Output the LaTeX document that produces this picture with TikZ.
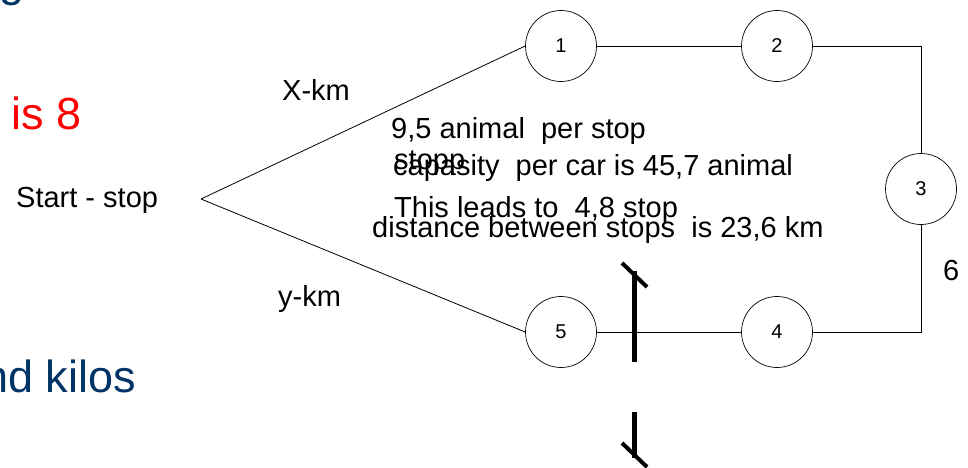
\documentclass[tikz,border=0pt]{standalone}
\usepackage{fontspec}
\setmainfont{Liberation Sans}
\definecolor{slideblue}{RGB}{0,51,102}
\tikzset{
  stopnode/.style={draw,circle,minimum size=71pt,inner sep=0pt,line width=0.7pt,font=\fontsize{20}{22}\selectfont},
  txt/.style={anchor=base west,inner sep=0pt,font=\fontsize{29}{31}\selectfont},
  bigtxt/.style={anchor=base west,inner sep=0pt,font=\fontsize{45}{47}\selectfont},
  route/.style={line width=0.8pt},
  cut/.style={line width=5pt}
}
\begin{document}
\begin{tikzpicture}[x=1pt,y=-1pt]
\useasboundingbox (0,0) rectangle (968,467);
% slide text cut off at the edges
\node[bigtxt,text=slideblue] (top) at (-1,-4) {g};
\node[bigtxt,text=red] (isx) at (11,129) {is 8};
\node[bigtxt,text=slideblue] (kilos) at (-17,392) {nd kilos};
% stops
\coordinate (start) at (201,199);
\node[stopnode] (s1) at (561,46) {1};
\node[stopnode] (s2) at (777,46) {2};
\node[stopnode] (s3) at (921,189) {3};
\node[stopnode] (s4) at (777,332) {4};
\node[stopnode] (s5) at (561,332) {5};
\draw[route] (start) -- (s1.west);
\draw[route] (start) -- (s5.west);
\draw[route] (s1) -- (s2);
\draw[route] (s2.east) -| (s3.north);
\draw[route] (s3.south) |- (s4.east);
\draw[route] (s4) -- (s5);
% labels
\node[txt] (startlbl) at (16,207) {Start - stop};
\node[txt] (xkm) at (282,100) {X-km};
\node[txt] (ykm) at (278,306) {y-km};
\node[txt] (six) at (943,280) {6};
\node[txt] (perstop) at (391,138) {9,5 animal\ \ per stop};
\node[txt] (stopp) at (394,169) {stopp};
\node[txt] (capa) at (393,175) {capasity\ \ per car is 45,7 animal};
\node[txt] (leads) at (394,217) {This leads to\ \ 4,8 stop};
\node[txt] (dist) at (372,237) {distance between stops\ \ is 23,6 km};
% cut marks
\draw[cut] (634,271) -- (634,362);
\draw[line width=4pt] (622,263) -- (647,287);
\draw[cut] (634,412) -- (634,458);
\draw[line width=4pt] (622,443) -- (647,467);
\end{tikzpicture}
\end{document}
